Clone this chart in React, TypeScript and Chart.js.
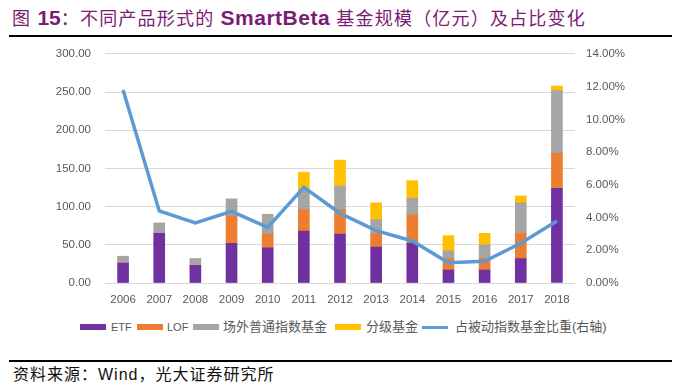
import React, { useEffect, useRef } from "react";
import { Chart, registerables } from "chart.js";

Chart.register(...registerables);

// ---- data ----
const years = ["2006", "2007", "2008", "2009", "2010", "2011", "2012", "2013", "2014", "2015", "2016", "2017", "2018"];
const etfValues = [26, 65, 23, 52, 46, 68, 64, 47, 52, 17, 17, 32, 124];
const lofValues = [0, 0, 0, 36, 18, 28, 32, 18, 37, 15, 15, 33, 46];
const otcIndexValues = [9, 13.5, 9, 22, 26, 26, 31, 18, 22, 10, 18, 40, 82];
const gradedValues = [0, 0, 0, 0, 0, 23, 34, 22, 23, 20, 15, 9, 6];
const passiveShare = [11.8, 4.4, 3.67, 4.38, 3.4, 5.85, 4.26, 3.2, 2.57, 1.24, 1.33, 2.43, 3.79];
const seriesNames = ["ETF", "LOF", "场外普通指数基金", "分级基金", "占被动指数基金比重(右轴)"];
const leftTicks = { min: 0, max: 300, step: 50 };
const rightTicks = { min: 0, max: 14, step: 2 };

const COLORS = ["#7030A0", "#ED7D31", "#A5A5A5", "#FFC000", "#5B9BD5"];
const TICK_FONT = { family: "'Liberation Sans', 'Noto Sans CJK SC', sans-serif", size: 11.5 };
const TICK_COLOR = "#595959";

export default function App() {
  const ref = useRef<HTMLCanvasElement | null>(null);

  useEffect(() => {
    if (!ref.current) return;
    const chart = new Chart(ref.current, {
      type: "bar",
      data: {
        labels: years,
        datasets: [
          { type: "line", label: seriesNames[4], data: passiveShare, yAxisID: "y1", borderColor: COLORS[4], backgroundColor: COLORS[4], borderWidth: 3.5, pointRadius: 0, tension: 0, order: 0 } as any,
          { label: seriesNames[0], data: etfValues, backgroundColor: COLORS[0], barThickness: 11, yAxisID: "y", order: 1 },
          { label: seriesNames[1], data: lofValues, backgroundColor: COLORS[1], barThickness: 11, yAxisID: "y", order: 1 },
          { label: seriesNames[2], data: otcIndexValues, backgroundColor: COLORS[2], barThickness: 11, yAxisID: "y", order: 1 },
          { label: seriesNames[3], data: gradedValues, backgroundColor: COLORS[3], barThickness: 11, yAxisID: "y", order: 1 },
        ],
      },
      options: {
        responsive: false,
        animation: false,
        layout: { padding: { top: 7, left: 0, right: 0, bottom: 0 } },
        plugins: { legend: { display: false }, tooltip: { enabled: false } },
        scales: {
          x: {
            stacked: true,
            grid: { display: false, drawTicks: false },
            border: { display: false },
            ticks: { font: TICK_FONT, color: TICK_COLOR, padding: 10, maxRotation: 0, autoSkip: false },
            afterFit: (s: any) => { s.height = 29; },
          },
          y: {
            stacked: true,
            min: leftTicks.min,
            max: leftTicks.max,
            ticks: { stepSize: leftTicks.step, font: TICK_FONT, color: TICK_COLOR, padding: 14, callback: (v: any) => Number(v).toFixed(2) },
            grid: { color: "#D9D9D9", drawTicks: false, lineWidth: 1 },
            border: { display: false },
            afterFit: (s: any) => { s.width = 105; },
          },
          y1: {
            position: "right",
            min: rightTicks.min,
            max: rightTicks.max,
            ticks: { stepSize: rightTicks.step, font: TICK_FONT, color: TICK_COLOR, padding: 11, callback: (v: any) => Number(v).toFixed(2) + "%" },
            grid: { display: false, drawTicks: false },
            border: { display: false },
            afterFit: (s: any) => { s.width = 107; },
          },
        },
      } as any,
    });
    return () => chart.destroy();
  }, []);

  const fam = "'Liberation Sans', 'Noto Sans CJK SC', sans-serif";
  const legendItems = [
    { box: 80, text: 111, color: COLORS[0], h: 6, label: seriesNames[0], size: 11 },
    { box: 137, text: 167, color: COLORS[1], h: 6, label: seriesNames[1], size: 11 },
    { box: 193, text: 223, color: COLORS[2], h: 6, label: seriesNames[2], size: 13 },
    { box: 335, text: 366, color: COLORS[3], h: 6, label: seriesNames[3], size: 13 },
    { box: 422, text: 455, color: COLORS[4], h: 3, label: seriesNames[4], size: 13 },
  ];

  return (
    <div style={{ position: "absolute", left: 0, top: 0, width: 682, height: 392, background: "#fff", overflow: "hidden", fontFamily: fam }}>
      <div style={{ position: "absolute", left: 12, top: 5, whiteSpace: "nowrap", color: "#7b1c74", fontSize: 18, lineHeight: "26px", letterSpacing: 1.2 }}>
        <span>图 </span>
        <span style={{ fontWeight: "bold", fontSize: 21, letterSpacing: 0 }}>15</span>
        <span>：不同产品形式的 </span>
        <span style={{ fontWeight: "bold", fontSize: 21, letterSpacing: 0.5 }}>SmartBeta</span>
        <span> 基金规模（亿元）及占比变化</span>
      </div>
      <div style={{ position: "absolute", left: 9, top: 35, width: 663, height: 2, background: "#000" }} />
      <canvas ref={ref} width={682} height={279} style={{ position: "absolute", left: 0, top: 33, width: 682, height: 279 }} />
      {legendItems.map((it, i) => (
        <React.Fragment key={i}>
          <div style={{ position: "absolute", left: it.box, top: 327 - it.h / 2, width: 26, height: it.h, background: it.color }} />
          <div style={{ position: "absolute", left: it.text, top: 318, lineHeight: "18px", fontSize: it.size, color: TICK_COLOR, whiteSpace: "nowrap" }}>{it.label}</div>
        </React.Fragment>
      ))}
      <div style={{ position: "absolute", left: 9, top: 360, width: 663, height: 2, background: "#000" }} />
      <div style={{ position: "absolute", left: 13, top: 365, whiteSpace: "nowrap", color: "#111", fontSize: 16, lineHeight: "20px", letterSpacing: 1 }}>
        资料来源：Wind，光大证券研究所
      </div>
    </div>
  );
}
